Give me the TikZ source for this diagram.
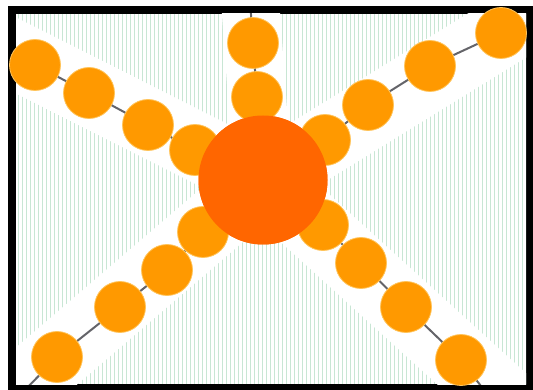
\documentclass[tikz,border=0pt]{standalone}
\usepackage{tikz}
\usetikzlibrary{calc, backgrounds}

\definecolor{beadorange}{RGB}{255,153,0}
\definecolor{beadedge}{RGB}{255,196,90}
\definecolor{hubred}{RGB}{255,102,0}
\definecolor{stripegreen}{RGB}{200,230,212}
\definecolor{chaingray}{RGB}{100,100,105}

\begin{document}
\begin{tikzpicture}[x=1pt, y=-1pt,
    bead/.style={circle, fill=beadorange, draw=beadedge, line width=0.8pt, minimum size=51pt, inner sep=0pt},
    hubnode/.style={circle, fill=hubred, minimum size=129pt, inner sep=0pt},
    chain/.style={draw=chaingray, line width=2pt},
    band/.style={white, line width=68pt},
    stripe/.style={stripegreen, line width=1pt}]
        \useasboundingbox (0,0) rectangle (533,390);

        % Nodes
        \node[hubnode] (hub) at (263,180) {};
        \node[bead] (up1) at (253,43)  {};
        \node[bead] (up2) at (257,97)  {};
        \node[bead] (ul1) at (35,65)   {};
        \node[bead] (ul2) at (89,93)   {};
        \node[bead] (ul3) at (148,125) {};
        \node[bead] (ul4) at (195,150) {};
        \node[bead] (ur1) at (501,33)  {};
        \node[bead] (ur2) at (430,66)  {};
        \node[bead] (ur3) at (368,105) {};
        \node[bead] (ur4) at (325,140) {};
        \node[bead] (ll1) at (57,357)  {};
        \node[bead] (ll2) at (120,307) {};
        \node[bead] (ll3) at (167,270) {};
        \node[bead] (ll4) at (203,232) {};
        \node[bead] (lr1) at (461,360) {};
        \node[bead] (lr2) at (406,307) {};
        \node[bead] (lr3) at (361,263) {};
        \node[bead] (lr4) at (323,225) {};
        \node[hubnode] at (hub) {};

        \coordinate (upEnd) at (250,0);
        \coordinate (llEnd) at (25,390);
        \coordinate (lrEnd) at (484,390);

        \begin{scope}[on background layer]
            % Frame
            \fill[black] (8,6) rectangle (533,390);
            \fill[white] (16,14) rectangle (526,384);
            \clip (16,14) rectangle (526,384);

            % Stripes and white bands
            \foreach \x in {18,22,...,526}
                \draw[stripe] (\x,14) -- (\x,384);
            \draw[band] (hub.center) -- ($(hub.center)!2!(ul1.center)$);
            \draw[band] (hub.center) -- ($(hub.center)!2!(ur1.center)$);
            \draw[band] (hub.center) -- ($(hub.center)!2!(ll1.center)$);
            \draw[band] (hub.center) -- ($(hub.center)!2!(lr1.center)$);
            \draw[band, line width=58pt] (hub.center) -- (upEnd);

            % Edges
            \draw[chain] (hub.center) -- (up2.center) -- (up1.center) -- (upEnd);
            \draw[chain] (hub.center) -- (ul4.center) -- (ul3.center) -- (ul2.center) -- (ul1.center);
            \draw[chain] (hub.center) -- (ur4.center) -- (ur3.center) -- (ur2.center) -- (ur1.center);
            \draw[chain] (hub.center) -- (ll4.center) -- (ll3.center) -- (ll2.center) -- (ll1.center) -- (llEnd);
            \draw[chain] (hub.center) -- (lr4.center) -- (lr3.center) -- (lr2.center) -- (lr1.center) -- (lrEnd);
        \end{scope}
\end{tikzpicture}
\end{document}
